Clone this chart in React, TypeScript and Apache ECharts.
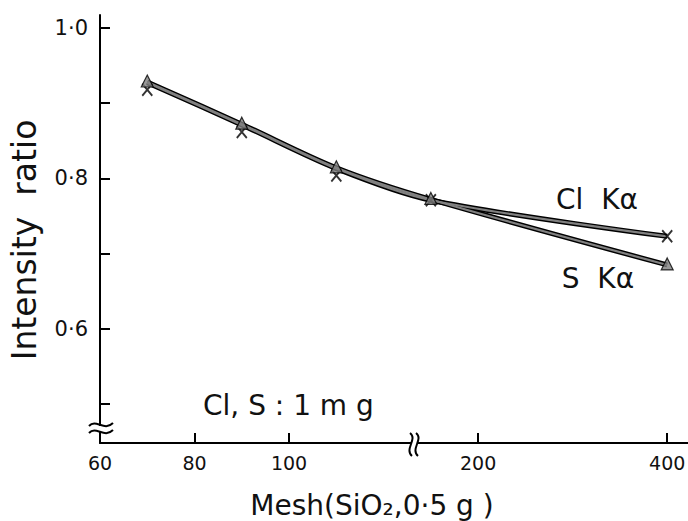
import React, { useEffect, useRef } from "react";
import * as echarts from "echarts";

// Data
const meshValues = [70, 90, 110, 150, 400];
const clValues = [0.927, 0.871, 0.813, 0.771, 0.723];
const sValues = [0.928, 0.872, 0.814, 0.772, 0.685];
const xTickMesh = [80, 100, 200, 400];
const xLabelMesh = [60, 80, 100, 200, 400];
const yTickValues = [0.5, 0.6, 0.7, 0.8, 0.9, 1.0];
const yLabelValues = [0.6, 0.8, 1.0];

// Broken x axis: linear 60..~127 then compressed (1/5) scale for 133..400
const BREAK = 127;
const toAxis = (m: number) => (m <= BREAK ? m : 140 + (m - 200) / 5);
const fromAxis = (t: number) => (t <= BREAK + 0.5 ? t : 200 + (t - 140) * 5);

const FONT = "DejaVu Sans";

const txt = (text: string, x: number, y: number, fontSize: number, align = "center", extra: any = {}) => ({
  type: "text",
  x,
  y,
  ...extra,
  style: {
    text,
    fontSize,
    fontFamily: FONT,
    fill: "#111",
    align,
    verticalAlign: "middle",
    textAlign: align,
    textVerticalAlign: "middle",
  },
});

export default function App() {
  const ref = useRef<HTMLDivElement>(null);
  useEffect(() => {
    if (!ref.current) return;
    const chart = echarts.init(ref.current, undefined, { renderer: "svg" });
    const clData = meshValues.map((m, i) => [toAxis(m), clValues[i]]);
    const sData = meshValues.map((m, i) => [toAxis(m), sValues[i]]);
    // where both markers share a spot, the cross is drawn just below the triangle
    const clMarkers = clData.map((p, i) => ({
      value: p,
      symbolOffset: Math.abs(clValues[i] - sValues[i]) < 0.01 && i < 3 ? [0, 7] : [0, 0],
    }));
    const option: any = {
      animation: false,
      backgroundColor: "#fff",
      grid: { left: 100, right: 0, top: 15, bottom: 78, outerBoundsMode: "none" },
      xAxis: {
        type: "value",
        min: 60,
        max: 184.4,
        axisLine: { show: true, lineStyle: { color: "#000", width: 2 } },
        axisTick: {
          show: true,
          inside: true,
          length: 10,
          customValues: xTickMesh.map(toAxis),
          lineStyle: { color: "#000", width: 2 },
        },
        axisLabel: {
          customValues: xLabelMesh.map(toAxis),
          showMinLabel: true,
          showMaxLabel: true,
          formatter: (v: number) => String(Math.round(fromAxis(v))),
          color: "#111",
          fontSize: 19,
          fontFamily: FONT,
          margin: 10,
        },
        splitLine: { show: false },
      },
      yAxis: {
        type: "value",
        min: 0.4485,
        max: 1.017,
        axisLine: { show: true, lineStyle: { color: "#000", width: 2 } },
        axisTick: {
          show: true,
          inside: true,
          length: 10,
          customValues: yTickValues,
          lineStyle: { color: "#000", width: 2 },
        },
        axisLabel: {
          customValues: yLabelValues,
          formatter: (v: number) => v.toFixed(1).replace(".", "·"),
          color: "#111",
          fontSize: 21,
          fontFamily: FONT,
          margin: 12,
        },
        splitLine: { show: false },
      },
      series: [
        { type: "line", data: sData, smooth: 0.3, showSymbol: false, lineStyle: { color: "#000", width: 5 }, z: 2 },
        { type: "line", data: clData, smooth: 0.3, showSymbol: false, lineStyle: { color: "#000", width: 5 }, z: 2 },
        { type: "line", data: sData, smooth: 0.3, showSymbol: false, lineStyle: { color: "#808080", width: 2.2 }, z: 3 },
        { type: "line", data: clData, smooth: 0.3, showSymbol: false, lineStyle: { color: "#808080", width: 2.2 }, z: 3 },
        {
          type: "scatter",
          data: clMarkers,
          symbol: "path://M0 0L10 12M10 0L0 12",
          symbolSize: [10, 12],
          itemStyle: { color: "rgba(0,0,0,0)", borderColor: "#000", borderWidth: 2 },
          z: 4,
        },
        {
          type: "scatter",
          data: sData,
          symbol: "triangle",
          symbolSize: 12,
          symbolOffset: [0, -1],
          itemStyle: { color: "#808080", borderColor: "#000", borderWidth: 1.2 },
          z: 5,
        },
      ],
      graphic: [
        txt("Intensity  ratio", 24, 240, 33, "center", { rotation: Math.PI / 2 }),
        txt("Mesh(SiO₂,0·5 g )", 372, 505, 28),
        txt("Cl, S : 1 m g", 203, 405, 28, "left"),
        txt("Cl  Kα", 597, 199, 28),
        txt("S  Kα", 598, 278, 28),
        // y-axis break
        { type: "rect", shape: { x: 95, y: 426, width: 10, height: 5 }, style: { fill: "#fff" }, z: 100 },
        {
          type: "bezierCurve",
          shape: { x1: 89, y1: 426, cpx1: 96, cpy1: 418, cpx2: 104, cpy2: 432, x2: 113, y2: 423 },
          style: { stroke: "#000", lineWidth: 2, fill: "none" },
          z: 101,
        },
        {
          type: "bezierCurve",
          shape: { x1: 89, y1: 433, cpx1: 96, cpy1: 425, cpx2: 104, cpy2: 439, x2: 113, y2: 430 },
          style: { stroke: "#000", lineWidth: 2, fill: "none" },
          z: 101,
        },
        // x-axis break
        { type: "rect", shape: { x: 412, y: 439, width: 6, height: 8 }, style: { fill: "#fff" }, z: 100 },
        {
          type: "bezierCurve",
          shape: { x1: 410, y1: 433, cpx1: 418, cpy1: 439, cpx2: 404, cpy2: 449, x2: 412, y2: 456 },
          style: { stroke: "#000", lineWidth: 2, fill: "none" },
          z: 101,
        },
        {
          type: "bezierCurve",
          shape: { x1: 416, y1: 433, cpx1: 424, cpy1: 439, cpx2: 410, cpy2: 449, x2: 418, y2: 456 },
          style: { stroke: "#000", lineWidth: 2, fill: "none" },
          z: 101,
        },
      ],
    };
    chart.setOption(option);
    return () => chart.dispose();
  }, []);
  return (
    <div
      ref={ref}
      style={{ position: "fixed", left: 0, top: 0, width: 688, height: 521, background: "#fff" }}
    />
  );
}
